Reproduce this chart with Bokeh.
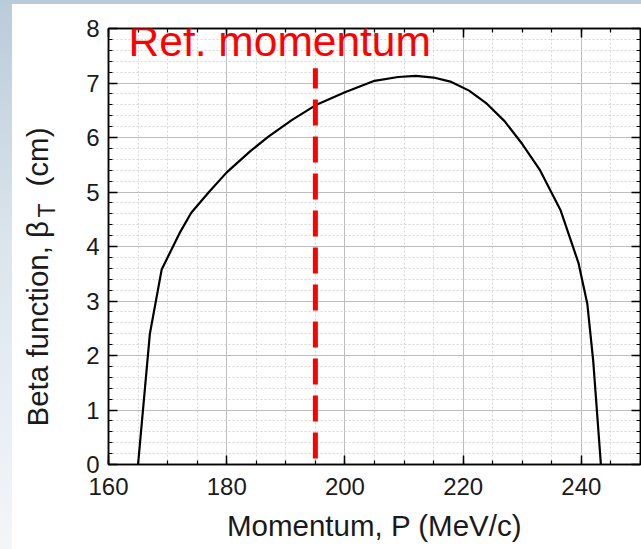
import numpy as np
from bokeh.plotting import figure
from bokeh.layouts import row
from bokeh.models import Range1d, LinearAxis, Label, SingleIntervalTicker
from bokeh.core.properties import value
from bokeh.embed import file_html
from bokeh.resources import INLINE

# Beta function along the momentum acceptance
momentum = [165.0, 167.0, 169.0, 172.0, 174.0, 177.0, 180.0, 184.0, 187.0,
            191.0, 195.0, 200.0, 205.0, 209.0, 212.0, 215.0, 218.0, 221.0,
            224.0, 227.0, 230.0, 233.0, 236.5, 239.5, 241.0, 242.0, 243.3]
beta_t = [0.0, 2.40, 3.58, 4.24, 4.62, 5.00, 5.36, 5.75, 6.01,
          6.32, 6.59, 6.83, 7.04, 7.11, 7.13, 7.10, 7.02, 6.86,
          6.62, 6.30, 5.88, 5.40, 4.66, 3.70, 2.95, 1.90, 0.0]

# Reference momentum marker
ref_momentum = 195.0
ref_span = [0.11, 7.27]

x_limits = (160, 250)
y_limits = (0, 8)

FONT = "Liberation Sans"
INK = "#1a1a1a"
W, H = 641, 549
TITLE_W = 60          # strip holding the rotated y title
LEFT, RIGHT, TOP, BOTTOM = 108, 1, 28, 85

y_range = Range1d(*y_limits)

# ---- main plot -------------------------------------------------------------
p = figure(width=W - TITLE_W, height=H,
           x_range=Range1d(*x_limits), y_range=y_range,
           output_backend="svg", toolbar_location=None,
           min_border_left=LEFT - TITLE_W, min_border_right=RIGHT,
           min_border_top=TOP, min_border_bottom=BOTTOM)

p.background_fill_color = "white"
p.border_fill_alpha = 0.0
p.outline_line_color = "black"
p.outline_line_width = 1.5

xt = SingleIntervalTicker(interval=20, num_minor_ticks=4)
yt = SingleIntervalTicker(interval=1, num_minor_ticks=5)


def style_axis(ax, labels=True):
    ax.axis_line_color = "black"
    ax.axis_line_width = 1.5
    ax.major_tick_line_color = "black"
    ax.minor_tick_line_color = "black"
    ax.major_tick_line_width = 1.5
    ax.minor_tick_line_width = 1.2
    ax.major_tick_in = 9
    ax.major_tick_out = 0
    ax.minor_tick_in = 4
    ax.minor_tick_out = 0
    if labels:
        ax.major_label_text_font = FONT
        ax.major_label_text_font_size = "24px"
        ax.major_label_text_color = INK
    else:
        # mirrored frame axes: ticks only
        ax.major_label_text_color = None
        ax.major_label_text_font_size = "1px"
        ax.major_label_standoff = 0


p.xaxis.ticker = xt
p.yaxis.ticker = yt
style_axis(p.xaxis[0])
style_axis(p.yaxis[0])
p.xaxis.major_label_standoff = 13
p.yaxis.major_label_standoff = 9

p.xaxis.axis_label = "Momentum, P (MeV/c)"
p.xaxis.axis_label_text_font = FONT
p.xaxis.axis_label_text_font_size = "29.5px"
p.xaxis.axis_label_text_font_style = "normal"
p.xaxis.axis_label_text_color = INK
p.xaxis.axis_label_standoff = 11

top_ax = LinearAxis(ticker=xt)
right_ax = LinearAxis(ticker=yt)
style_axis(top_ax, labels=False)
style_axis(right_ax, labels=False)
p.add_layout(top_ax, "above")
p.add_layout(right_ax, "right")

p.xgrid.grid_line_color = "#bdbdbd"
p.ygrid.grid_line_color = "#bdbdbd"
p.xgrid.minor_grid_line_color = "#d6d6d6"
p.ygrid.minor_grid_line_color = "#d6d6d6"
p.xgrid.minor_grid_line_dash = "2 2"
p.ygrid.minor_grid_line_dash = "2 2"

p.line(momentum, beta_t, line_color="black", line_width=2.2)
p.line([ref_momentum, ref_momentum], ref_span, line_color="#ff0000",
       line_width=5, line_dash="26 11")

p.add_layout(Label(x=163.4, y=7.76, text="Ref. momentum", text_color="#ff0000",
                   text_font=FONT, text_font_size="42.5px",
                   text_baseline="alphabetic", text_align="left"))

# ---- rotated y title with a subscript T ------------------------------------
# shares the y range, so its frame lines up with the main plot's frame
t = figure(width=TITLE_W, height=H, x_range=Range1d(0, TITLE_W),
           y_range=y_range, output_backend="svg", toolbar_location=None,
           x_axis_type=None, y_axis_type=None, min_border=0)
t.grid.visible = False
t.outline_line_color = None
t.background_fill_alpha = 0.0
t.border_fill_alpha = 0.0

px_per_y = (H - TOP - BOTTOM) / (y_limits[1] - y_limits[0])
size = 29.5
sub_size = 23
start = (H - BOTTOM - 426) / px_per_y     # lower end of the title
base_x = 37
parts = ["Beta function, \u03b2", "T", "(cm)"]
offsets = [0, 209, 240]                     # along the title, in pixels
sizes = [size, sub_size, size]
shifts = [0, 9.4, 0]
for text, off, fs, dx in zip(parts, offsets, sizes, shifts):
    t.text(x=[base_x + dx], y=[start + off / px_per_y], text=[text],
           angle=np.pi / 2, text_color=INK, text_font=value(FONT),
           text_font_size=value(f"{fs}px"),
           text_baseline="alphabetic", text_align="left")

layout = row(t, p, spacing=0)
layout.styles = {
    "background": ("linear-gradient(#b8cbd7, #b8cbd7) left top / 100% 4px no-repeat, "
                   "linear-gradient(to bottom, #b9ccd9 0%, #dce5ec 45%, #f3f6f9 100%) "
                   "left top / 12px 100% no-repeat, #ffffff")
}

open("out.html", "w").write(file_html(layout, INLINE))
